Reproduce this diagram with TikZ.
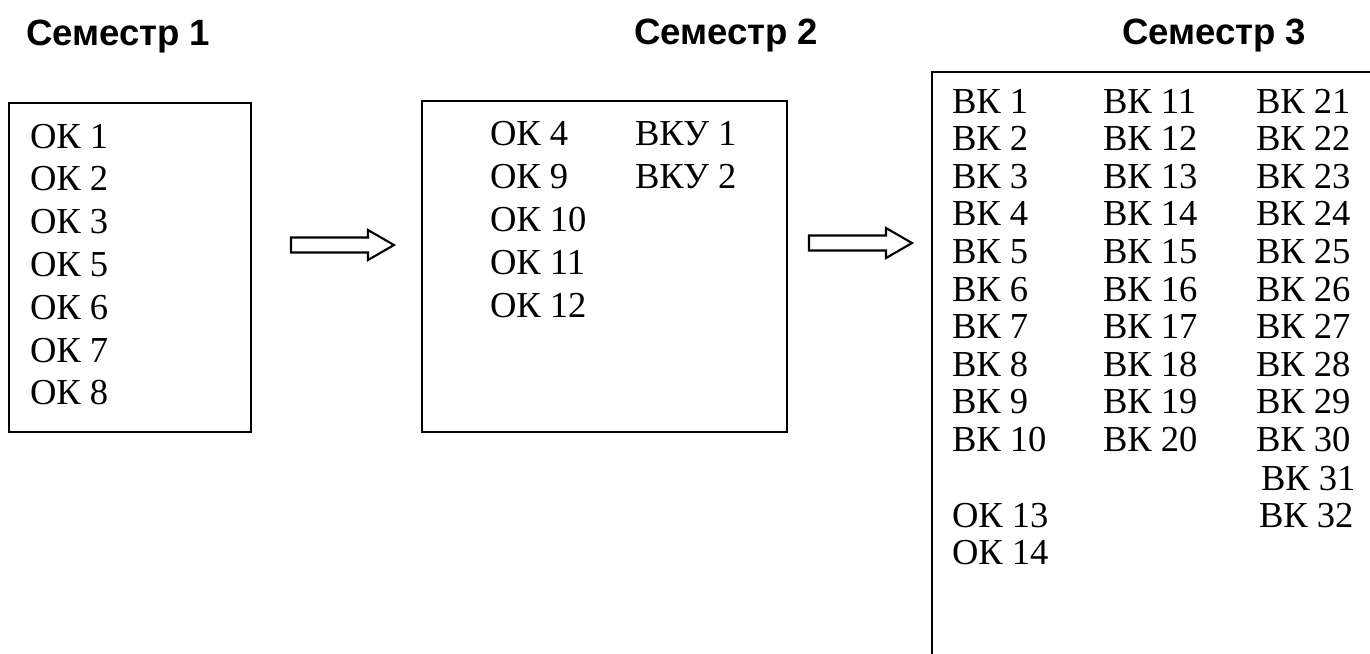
\documentclass[tikz,border=0pt]{standalone}
\usepackage{fontspec}
\setmainfont{Liberation Serif}
\newfontfamily\headfont{Liberation Sans}
\usetikzlibrary{positioning}

\begin{document}
\begin{tikzpicture}[x=0.01cm,y=-0.01cm,
	box/.style={draw,line width=0.6pt,inner sep=0,outer sep=0,anchor=north west},
	item/.style={inner sep=0,outer sep=0,anchor=base west,font=\fontsize{10.4}{12}\selectfont},
	head/.style={inner sep=0,outer sep=0,anchor=base west,font=\headfont\bfseries\fontsize{10.4}{12}\selectfont},
	blockarrow/.pic={\draw[line width=0.6pt] (0,-7.5) -- (77,-7.5) -- (77,-15) -- (103,0) -- (77,15) -- (77,7.5) -- (0,7.5) -- cycle;}]
	\useasboundingbox (0,0) rectangle (1370,653);
	\clip (0,0) rectangle (1370,653);
	\node[head] (h1) at (26,45) {Семестр 1};
	\node[head] (h2) at (634,44) {Семестр 2};
	\node[head] (h3) at (1122,44) {Семестр 3};
	\node[box,minimum width=2.42cm,minimum height=3.29cm] (s1) at (9,103) {};
	\node[box,minimum width=3.65cm,minimum height=3.31cm] (s2) at (422,101) {};
	\node[box,minimum width=4.6cm,minimum height=6cm] (s3) at (932,72) {};
	\pic (a1) at (291,245) {blockarrow};
	\pic (a2) at (809,243) {blockarrow};
	\foreach \t [count=\i from 0] in {1,2,3,5,6,7,8}
		\node[item] (ok\t) at (30,148+42.8*\i) {ОК \t};
	\foreach \t [count=\i from 0] in {4,9,10,11,12}
		\node[item] (ok\t) at (490,145+43*\i) {ОК \t};
	\node[item] (vku1) at (635,145) {ВКУ 1};
	\node[item] (vku2) at (635,188) {ВКУ 2};
	\foreach \i in {0,...,9} {
		\pgfmathtruncatemacro\a{\i+1}
		\pgfmathtruncatemacro\b{\i+11}
		\pgfmathtruncatemacro\c{\i+21}
		\node[item] (vk\a) at (952,113+37.6*\i) {ВК \a};
		\node[item] (vk\b) at (1103,113+37.6*\i) {ВК \b};
		\node[item] (vk\c) at (1256,113+37.6*\i) {ВК \c};
	}
	\node[item] (vk31) at (1261,490) {ВК 31};
	\node[item] (vk32) at (1259,527) {ВК 32};
	\node[item] (ok13) at (952,527) {ОК 13};
	\node[item] (ok14) at (952,564) {ОК 14};
\end{tikzpicture}
\end{document}
